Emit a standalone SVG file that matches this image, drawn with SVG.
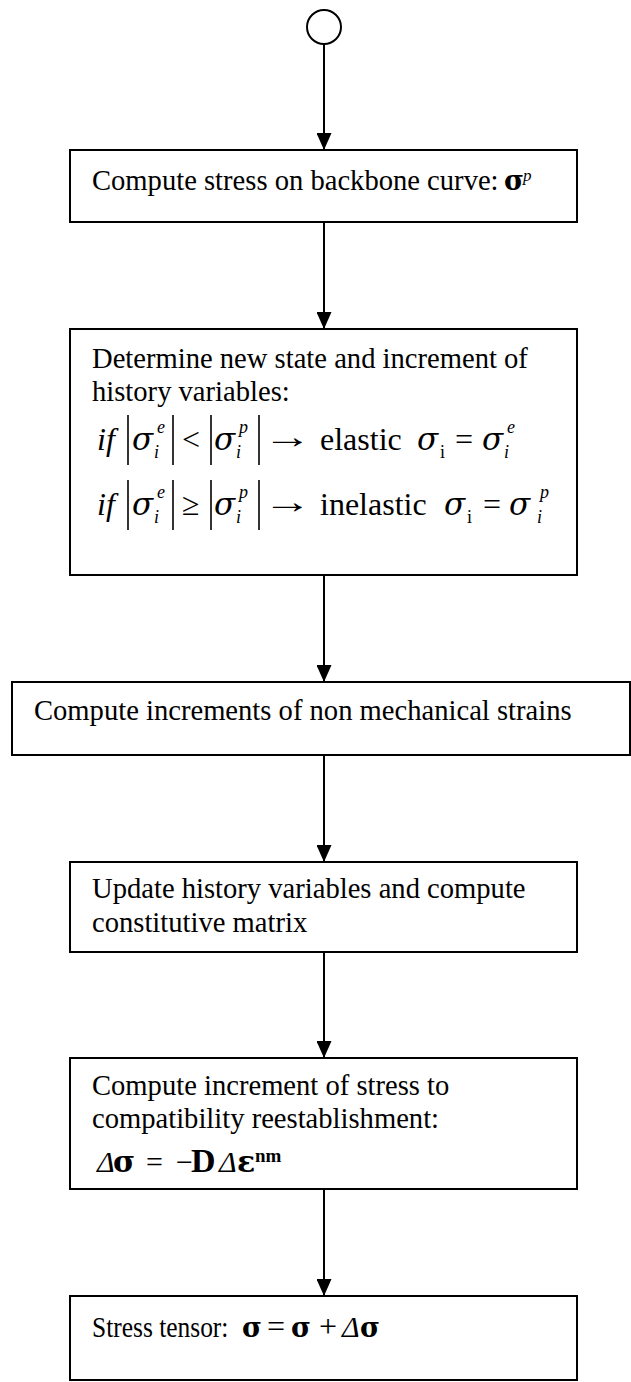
<svg xmlns="http://www.w3.org/2000/svg" width="631" height="1382" viewBox="0 0 631 1382">
  <defs>
    <marker id="arrowhead" markerWidth="17" markerHeight="15" refX="17" refY="7.5" orient="auto" markerUnits="userSpaceOnUse">
      <path d="M0,0 L17,7.5 L0,15 Z" fill="#000"/>
    </marker>
    <style>
      .box { fill: #fff; stroke: #000; stroke-width: 2; }
      .start { fill: #fff; stroke: #000; stroke-width: 2; }
      .flow { stroke: #000; stroke-width: 2; fill: none; marker-end: url(#arrowhead); }
      .bar { stroke: #000; stroke-width: 1.6; }
      text { font-family: "Liberation Serif", "Times New Roman", serif; fill: #000; }
      .t { font-size: 28.6px; }
      .m { font-size: 32px; }
      .mi { font-size: 32px; font-style: italic; }
      .g { font-family: "DejaVu Serif", "Liberation Serif", serif; font-size: 31px; font-style: italic; }
      .gb { font-family: "DejaVu Serif", "Liberation Serif", serif; font-size: 28px; font-weight: bold; }
      .arr { font-size: 34px; }
      .s { font-size: 18px; font-style: italic; }
      .su { font-size: 18px; }
      .bi { font-size: 30px; font-style: italic; }
      .bs { font-size: 19px; font-weight: bold; }
      .ps { font-size: 17px; font-style: italic; }
    </style>
  </defs>

  <!-- connectors -->
  <g id="connectors">
    <line class="flow" x1="324" y1="44" x2="324" y2="150"/>
    <line class="flow" x1="324" y1="222" x2="324" y2="329"/>
    <line class="flow" x1="324" y1="575" x2="324" y2="682"/>
    <line class="flow" x1="324" y1="755" x2="324" y2="862"/>
    <line class="flow" x1="324" y1="952" x2="324" y2="1058"/>
    <line class="flow" x1="324" y1="1189" x2="324" y2="1296"/>
  </g>

  <!-- start node -->
  <g id="start">
    <circle class="start" cx="324" cy="27" r="17"/>
  </g>

  <!-- backbone stress -->
  <g id="backbone">
    <rect class="box" x="70" y="150" width="507" height="72"/>
    <text class="t" x="92" y="190">Compute stress on backbone curve:</text>
    <text class="gb" x="504" y="190" style="font-size:27px">σ</text>
    <text class="ps" x="523" y="181">p</text>
  </g>

  <!-- state determination -->
  <g id="state">
    <rect class="box" x="70" y="329" width="507" height="246"/>
    <text class="t" x="92" y="368">Determine new state and increment of</text>
    <text class="t" x="92" y="401">history variables:</text>

    <!-- elastic branch -->
    <text class="mi" x="97" y="450">if</text>
    <line class="bar" x1="128" y1="415" x2="128" y2="465"/>
    <text class="g" x="132" y="450">σ</text>
    <text class="s" x="157" y="433">e</text>
    <text class="s" x="154" y="458">i</text>
    <line class="bar" x1="173" y1="415" x2="173" y2="465"/>
    <text class="m" x="182" y="450">&lt;</text>
    <line class="bar" x1="211" y1="415" x2="211" y2="465"/>
    <text class="g" x="214" y="450">σ</text>
    <text class="s" x="239" y="433">p</text>
    <text class="s" x="236" y="458">i</text>
    <line class="bar" x1="259" y1="415" x2="259" y2="465"/>
    <text class="arr" transform="translate(263,448) scale(1.43,1)">→</text>
    <text class="m" x="320" y="450">elastic</text>
    <text class="g" x="417" y="450">σ</text>
    <text class="su" x="440" y="458">i</text>
    <text class="m" x="455" y="450">=</text>
    <text class="g" x="482" y="450">σ</text>
    <text class="s" x="507" y="433">e</text>
    <text class="s" x="504" y="458">i</text>

    <!-- inelastic branch -->
    <text class="mi" x="97" y="515">if</text>
    <line class="bar" x1="128" y1="480" x2="128" y2="530"/>
    <text class="g" x="132" y="515">σ</text>
    <text class="s" x="157" y="498">e</text>
    <text class="s" x="154" y="523">i</text>
    <line class="bar" x1="173" y1="480" x2="173" y2="530"/>
    <text class="m" x="182" y="515">≥</text>
    <line class="bar" x1="211" y1="480" x2="211" y2="530"/>
    <text class="g" x="214" y="515">σ</text>
    <text class="s" x="239" y="498">p</text>
    <text class="s" x="236" y="523">i</text>
    <line class="bar" x1="259" y1="480" x2="259" y2="530"/>
    <text class="arr" transform="translate(263,513) scale(1.43,1)">→</text>
    <text class="m" x="320" y="515">inelastic</text>
    <text class="g" x="444" y="515">σ</text>
    <text class="su" x="467" y="523">i</text>
    <text class="m" x="483" y="515">=</text>
    <text class="g" x="509" y="515">σ</text>
    <text class="s" x="540" y="498">p</text>
    <text class="s" x="537" y="523">i</text>
  </g>

  <!-- non mechanical strains -->
  <g id="strains">
    <rect class="box" x="12" y="682" width="618" height="73"/>
    <text class="t" x="34" y="720">Compute increments of non mechanical strains</text>
  </g>

  <!-- history update -->
  <g id="update">
    <rect class="box" x="70" y="862" width="507" height="90"/>
    <text class="t" x="92" y="898">Update history variables and compute</text>
    <text class="t" x="92" y="932">constitutive matrix</text>
  </g>

  <!-- stress increment -->
  <g id="increment">
    <rect class="box" x="70" y="1058" width="507" height="131"/>
    <text class="t" x="92" y="1095">Compute increment of stress to</text>
    <text class="t" x="92" y="1128">compatibility reestablishment:</text>
    <text class="bi" x="97" y="1172">Δ</text>
    <text class="gb" x="113" y="1172" style="font-size:30px">σ</text>
    <text class="m" x="146" y="1172" style="font-size:30px">=</text>
    <text class="m" x="176" y="1172" style="font-size:30px">−</text>
    <text class="m" x="191" y="1172" style="font-size:34px;font-weight:bold">D</text>
    <text class="bi" x="219" y="1172">Δ</text>
    <text class="gb" x="237" y="1172" style="font-size:30px">ε</text>
    <text class="bs" x="255" y="1162">nm</text>
  </g>

  <!-- stress tensor -->
  <g id="tensor">
    <rect class="box" x="70" y="1296" width="507" height="84"/>
    <text class="t" transform="translate(92,1337) scale(0.89,1)">Stress tensor:</text>
    <text class="gb" x="242" y="1337" style="font-size:27px">σ</text>
    <text class="m" x="267" y="1337" style="font-size:32px">=</text>
    <text class="gb" x="291" y="1337" style="font-size:27px">σ</text>
    <text class="m" x="319" y="1337" style="font-size:32px">+</text>
    <text class="bi" x="342" y="1337">Δ</text>
    <text class="gb" x="360" y="1337" style="font-size:27px">σ</text>
  </g>
</svg>
